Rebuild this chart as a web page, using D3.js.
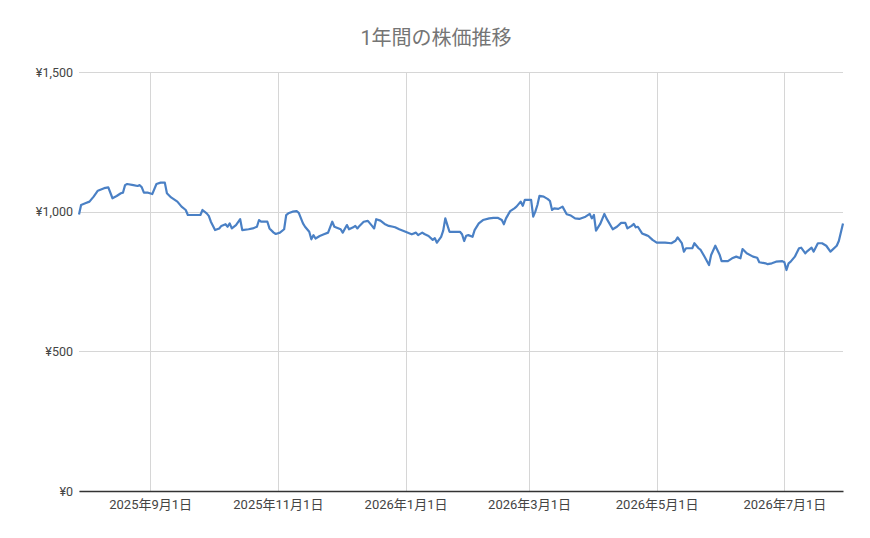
<!DOCTYPE html>
<html>
<head>
<meta charset="utf-8">
<script src="https://cdn.jsdelivr.net/npm/d3@7"></script>
<style>
	body { margin: 0; background: #fff; }
	text { font-family: Roboto, "Noto Sans CJK JP", sans-serif; }
</style>
</head>
<body>
<svg id="chart" width="870" height="538"></svg>
<script>
var title = "1年間の株価推移";

var dates = [
	"2025-07-29","2025-07-30","2025-08-01","2025-08-03","2025-08-05","2025-08-07","2025-08-10","2025-08-12","2025-08-14","2025-08-16",
	"2025-08-18","2025-08-19","2025-08-20","2025-08-21","2025-08-24","2025-08-26","2025-08-27","2025-08-28","2025-08-29","2025-08-31",
	"2025-09-02","2025-09-04","2025-09-06","2025-09-08","2025-09-09","2025-09-11","2025-09-14","2025-09-16","2025-09-18","2025-09-19",
	"2025-09-25","2025-09-26","2025-09-28","2025-09-29","2025-09-30","2025-10-02","2025-10-04","2025-10-05","2025-10-07","2025-10-08",
	"2025-10-09","2025-10-10","2025-10-12","2025-10-14","2025-10-15","2025-10-18","2025-10-20","2025-10-22","2025-10-23","2025-10-24",
	"2025-10-27","2025-10-28","2025-10-30","2025-10-31","2025-11-02","2025-11-04","2025-11-05","2025-11-06","2025-11-08","2025-11-10",
	"2025-11-11","2025-11-13","2025-11-14","2025-11-16","2025-11-17","2025-11-18","2025-11-19","2025-11-21","2025-11-23","2025-11-25",
	"2025-11-27","2025-11-28","2025-12-01","2025-12-02","2025-12-04","2025-12-05","2025-12-07","2025-12-08","2025-12-09","2025-12-10",
	"2025-12-12","2025-12-14","2025-12-16","2025-12-17","2025-12-18","2025-12-20","2025-12-22","2025-12-24","2025-12-26","2025-12-27",
	"2025-12-29","2026-01-01","2026-01-03","2026-01-04","2026-01-06","2026-01-07","2026-01-09","2026-01-10","2026-01-12","2026-01-14",
	"2026-01-15","2026-01-16","2026-01-18","2026-01-19","2026-01-20","2026-01-21","2026-01-22","2026-01-25","2026-01-27","2026-01-28",
	"2026-01-29","2026-01-30","2026-01-31","2026-02-02","2026-02-03","2026-02-05","2026-02-07","2026-02-10","2026-02-12","2026-02-14",
	"2026-02-16","2026-02-17","2026-02-18","2026-02-20","2026-02-22","2026-02-23","2026-02-25","2026-02-26","2026-02-27","2026-03-02",
	"2026-03-03","2026-03-04","2026-03-05","2026-03-06","2026-03-08","2026-03-10","2026-03-11","2026-03-12","2026-03-13","2026-03-15",
	"2026-03-17","2026-03-19","2026-03-21","2026-03-23","2026-03-25","2026-03-28","2026-03-30","2026-03-31","2026-04-01","2026-04-02",
	"2026-04-04","2026-04-06","2026-04-07","2026-04-10","2026-04-12","2026-04-14","2026-04-16","2026-04-17","2026-04-19","2026-04-20",
	"2026-04-21","2026-04-22","2026-04-24","2026-04-26","2026-04-27","2026-04-29","2026-05-01","2026-05-05","2026-05-08","2026-05-10",
	"2026-05-11","2026-05-13","2026-05-14","2026-05-15","2026-05-18","2026-05-19","2026-05-21","2026-05-22","2026-05-24","2026-05-26",
	"2026-05-27","2026-05-29","2026-05-31","2026-06-01","2026-06-04","2026-06-06","2026-06-08","2026-06-10","2026-06-11","2026-06-13",
	"2026-06-16","2026-06-18","2026-06-19","2026-06-22","2026-06-23","2026-06-25","2026-06-27","2026-06-30","2026-07-01","2026-07-02",
	"2026-07-03","2026-07-04","2026-07-06","2026-07-08","2026-07-09","2026-07-11","2026-07-12","2026-07-14","2026-07-15","2026-07-17",
	"2026-07-19","2026-07-21","2026-07-23","2026-07-26","2026-07-27","2026-07-29"
];

var prices = [
	990,1024,1030,1036,1054,1075,1084,1087,1048,1056,
	1066,1068,1095,1099,1095,1092,1095,1087,1068,1068,
	1063,1099,1104,1104,1066,1051,1036,1018,1006,988,
	988,1006,994,985,964,934,940,949,955,946,
	958,940,952,973,934,937,940,946,970,964,
	964,940,925,920,925,937,988,994,1000,1002,
	996,958,946,928,901,916,904,913,919,925,
	964,946,937,925,952,937,944,949,940,949,
	964,967,949,940,973,968,956,949,946,944,
	937,928,922,919,925,916,925,920,913,899,
	905,889,910,932,976,952,928,928,928,919,
	895,914,916,910,934,958,970,976,978,978,
	970,955,976,1002,1012,1018,1036,1021,1042,1042,
	982,1000,1024,1057,1054,1045,1038,1006,1012,1010,
	1018,991,986,976,974,982,992,976,988,932,
	956,992,976,937,946,960,960,940,949,956,
	944,946,922,916,913,899,889,889,887,896,
	908,887,857,869,869,887,869,863,837,809,
	845,878,847,823,823,833,839,833,866,851,
	839,835,819,815,812,815,821,823,819,791,
	815,821,839,869,871,851,859,871,857,887,
	887,878,857,878,895,958
];

var yTicks = [0, 500, 1000, 1500];
var xTicks = ["2025-09-01","2025-11-01","2026-01-01","2026-03-01","2026-05-01","2026-07-01"];

var parse = d3.timeParse("%Y-%m-%d");
var data = dates.map(function(d, i) {
	return {date: parse(d), price: prices[i]};
});

var svg = d3.select("#chart"),
	margin = {top: 72, right: 27, bottom: 47, left: 79},
	width = +svg.attr("width") - margin.left - margin.right,
	height = +svg.attr("height") - margin.top - margin.bottom;

var x = d3.scaleTime()
	.domain(d3.extent(data, function(d) { return d.date; }))
	.range([0, width]);
var y = d3.scaleLinear()
	.domain([0, 1500])
	.range([height, 0]);

svg.append("text")
	.attr("x", 436)
	.attr("y", 45)
	.attr("text-anchor", "middle")
	.style("font-size", "20px")
	.style("fill", "#757575")
	.text(title);

var g = svg.append("g")
	.attr("transform", "translate(" + margin.left + "," + margin.top + ")");

// grid
g.selectAll(".hgrid")
	.data(yTicks)
	.enter().append("line")
	.attr("x1", 0)
	.attr("x2", width)
	.attr("y1", function(d) { return Math.round(y(d)) + 0.5; })
	.attr("y2", function(d) { return Math.round(y(d)) + 0.5; })
	.style("stroke", "#d6d6d6");

g.selectAll(".vgrid")
	.data(xTicks)
	.enter().append("line")
	.attr("x1", function(d) { return Math.round(x(parse(d))) + 0.5; })
	.attr("x2", function(d) { return Math.round(x(parse(d))) + 0.5; })
	.attr("y1", 0)
	.attr("y2", height)
	.style("stroke", "#d6d6d6");

// axes
var yAxis = g.append("g")
	.call(d3.axisLeft(y)
		.tickValues(yTicks)
		.tickSize(0)
		.tickPadding(6)
		.tickFormat(function(d) { return "¥" + d3.format(",")(d); }));
yAxis.select(".domain").remove();
yAxis.selectAll("text")
	.style("font-size", "12.5px")
	.style("fill", "#444");

var xAxis = g.append("g")
	.attr("transform", "translate(0," + height + ")")
	.call(d3.axisBottom(x)
		.tickValues(xTicks.map(parse))
		.tickSize(0)
		.tickPadding(9)
		.tickFormat(d3.timeFormat("%Y年%-m月%-d日")));
xAxis.select(".domain")
	.style("stroke", "#333")
	.style("stroke-width", 1.5);
xAxis.selectAll("text")
	.style("font-size", "13px")
	.style("fill", "#444");

var line = d3.line()
	.x(function(d) { return x(d.date); })
	.y(function(d) { return y(d.price); });

g.append("path")
	.datum(data)
	.attr("d", line)
	.style("fill", "none")
	.style("stroke", "#4a80c5")
	.style("stroke-width", 2.2)
	.style("stroke-linejoin", "round");
</script>
</body>
</html>
